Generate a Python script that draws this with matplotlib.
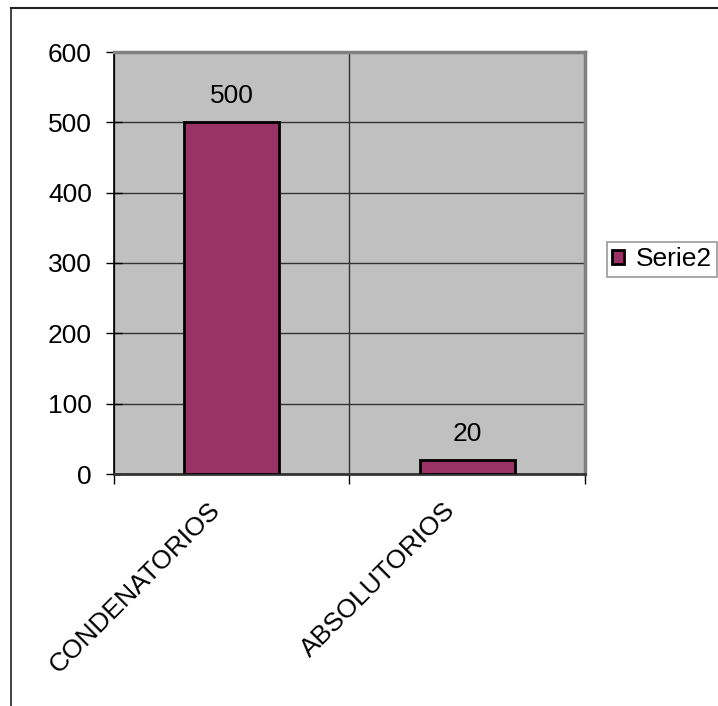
import matplotlib
matplotlib.use("Agg")
import matplotlib.pyplot as plt
import matplotlib.transforms as mtransforms
from matplotlib.lines import Line2D
import numpy as np

categories = ["CONDENATORIOS", "ABSOLUTORIOS"]
values = [500, 20]
series_name = "Serie2"
yticks = [0, 100, 200, 300, 400, 500, 600]

plt.rcParams['font.family'] = ['Liberation Sans', 'DejaVu Sans']
W, H = 718, 706
FS = 19
fig = plt.figure(figsize=(W/100, H/100), dpi=100)

L, R, T, B = 114, 585, 52, 474
ax = fig.add_axes([L/W, 1 - B/H, (R-L)/W, (B-T)/H])
ax.set_facecolor('#C0C0C0')

x = np.arange(len(categories))
bars = ax.bar(x, values, width=0.405, color='#993366', edgecolor='black',
              linewidth=2, zorder=3, label=series_name)
ax.set_xlim(-0.5, len(categories) - 0.5)
ax.set_ylim(0, 600)

ax.set_yticks(yticks)
ax.set_yticklabels([str(v) for v in yticks], fontsize=FS)
ax.set_xticks(np.arange(len(categories) + 1) - 0.5)
ax.set_xticklabels([])
ax.set_xticks(x, minor=True)
ax.set_xticklabels(categories, minor=True, rotation=45, ha='right', va='top',
                   fontsize=FS, rotation_mode='default')
ax.tick_params(axis='x', which='minor', length=0, pad=0)
ax.tick_params(axis='x', which='major', length=7, width=1, color='black', direction='out')
ax.tick_params(axis='y', length=12, width=1, color='black', direction='inout', pad=10)
ax.yaxis.grid(True, color='#333333', linewidth=1, zorder=1)
ax.xaxis.grid(True, which='major', color='#333333', linewidth=1, zorder=1)
ax.set_axisbelow(True)

offset = mtransforms.ScaledTranslation(-7/100, -24/100, fig.dpi_scale_trans)
for lbl in ax.get_xticklabels(minor=True):
    lbl.set_transform(lbl.get_transform() + offset)

for s in ['top', 'right']:
    ax.spines[s].set_color('#808080')
    ax.spines[s].set_linewidth(2.5)
ax.spines['left'].set_color('black')
ax.spines['left'].set_linewidth(1.2)
ax.spines['bottom'].set_color('#333333')
ax.spines['bottom'].set_linewidth(2)

for xi, v in zip(x, values):
    ax.text(xi, v + 20, str(v), ha='center', va='bottom', fontsize=FS, zorder=4)

leg = fig.legend(handles=[bars], labels=[series_name], loc='upper left',
                 bbox_to_anchor=(607/W, 1 - 242/H), fontsize=FS, frameon=True,
                 fancybox=False, shadow=False, edgecolor='#808080',
                 handlelength=0.45, handleheight=0.45, handletextpad=0.45,
                 borderpad=0.2, borderaxespad=0)
leg.get_frame().set_linewidth(1.2)

fig.add_artist(Line2D([11/W, 11/W], [0, 1 - 8/H], color='#222222', linewidth=1.2))
fig.add_artist(Line2D([11/W, 717/W], [1 - 8/H, 1 - 8/H], color='#222222', linewidth=1.5))

fig.savefig('out.png', dpi=100)
